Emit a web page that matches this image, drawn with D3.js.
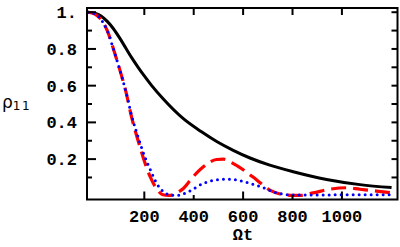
<!DOCTYPE html>
<html>
<head>
<meta charset="utf-8">
<script src="https://cdn.jsdelivr.net/npm/d3@7"></script>
<style>
  body { margin: 0; background: #fff; }
  svg { display: block; }
  .tick-label { font-family: "Liberation Mono", "Courier New", monospace; font-weight: bold; font-size: 17px; fill: #000; }
</style>
</head>
<body>
<svg id="chart" width="400" height="247"></svg>
<script>
/* data (time in Ωt, value rho11) */
const blackT = [-28, 0, 25, 50, 75, 100, 125, 150, 175, 200, 230, 277, 358, 430, 493, 560, 628, 708, 803, 938, 1073, 1201];
const blackV = [1, 0.995, 0.98, 0.95, 0.91, 0.86, 0.805, 0.75, 0.7, 0.653, 0.6, 0.527, 0.42, 0.35, 0.296, 0.248, 0.206, 0.167, 0.131, 0.089, 0.061, 0.045];

const redT = [-28, 0, 25, 50, 75, 100, 125, 150, 175, 200, 225, 250, 275, 300, 325, 358, 392, 439, 493, 520, 547, 607, 655, 708, 750, 790, 830, 884, 951, 1019, 1073, 1140, 1207];
const redV = [1, 0.99, 0.96, 0.9, 0.8, 0.69, 0.57, 0.42, 0.3, 0.19, 0.1, 0.038, 0.006, 0.002, 0.012, 0.04, 0.095, 0.158, 0.198, 0.2, 0.185, 0.136, 0.086, 0.031, 0.01, 0.003, 0.002, 0.016, 0.036, 0.044, 0.036, 0.026, 0.015];

const blueT = [-28, 0, 25, 50, 75, 100, 125, 150, 175, 200, 225, 250, 275, 300, 331, 360, 385, 439, 506, 533, 560, 628, 681, 722, 760, 789, 850, 950, 1050, 1150, 1207];
const blueV = [1, 0.99, 0.96, 0.9, 0.8, 0.69, 0.57, 0.43, 0.32, 0.22, 0.14, 0.068, 0.025, 0.006, 0.002, 0.012, 0.027, 0.068, 0.089, 0.091, 0.089, 0.068, 0.045, 0.022, 0.01, 0.005, 0.004, 0.005, 0.006, 0.006, 0.006];

const xTickVals = [200, 400, 600, 800, 1000];
const xTickLabels = ["200", "400", "600", "800", "1000"];
const xLongTicks = [200, 600, 1000];
const yTickVals = [0.2, 0.4, 0.6, 0.8, 1];
const yTickLabels = ["0.2", "0.4", "0.6", "0.8", "1."];
const yMinorVals = [0.1, 0.3, 0.5, 0.7, 0.9];

const svg = d3.select("#chart");

const x = d3.scaleLinear().domain([-32, 1225]).range([87, 397.5]);
const y = d3.scaleLinear().domain([-0.02, 1.023]).range([199.5, 8]);

const toPts = (ts, vs) => ts.map((t, i) => [t, vs[i]]);

const line = d3.line()
  .x(d => x(d[0]))
  .y(d => y(d[1]))
  .curve(d3.curveMonotoneX);

svg.append("defs").append("clipPath").attr("id", "clip")
  .append("rect")
  .attr("x", x(-32)).attr("y", y(1.023))
  .attr("width", x(1225) - x(-32)).attr("height", y(-0.02) - y(1.023));

const plot = svg.append("g").attr("clip-path", "url(#clip)");

plot.append("path")
  .attr("d", line(toPts(blackT, blackV)))
  .attr("fill", "none")
  .attr("stroke", "#000")
  .attr("stroke-width", 3);

plot.append("path")
  .attr("d", line(toPts(redT, redV)))
  .attr("fill", "none")
  .attr("stroke", "#ff0000")
  .attr("stroke-width", 3.2)
  .attr("stroke-dasharray", "15,7");

plot.append("path")
  .attr("d", line(toPts(blueT, blueV)))
  .attr("fill", "none")
  .attr("stroke", "#0000ff")
  .attr("stroke-width", 3)
  .attr("stroke-linecap", "round")
  .attr("stroke-dasharray", "0,6");

/* frame */
svg.append("rect")
  .attr("x", x(-32)).attr("y", y(1.023))
  .attr("width", x(1225) - x(-32)).attr("height", y(-0.02) - y(1.023))
  .attr("fill", "none")
  .attr("stroke", "#000")
  .attr("stroke-width", 2);

const ticks = svg.append("g").attr("stroke", "#000").attr("stroke-width", 2);

/* left ticks */
ticks.selectAll("line.yl").data(yTickVals).enter().append("line")
  .attr("x1", x(-32)).attr("x2", x(-32) + 9)
  .attr("y1", d => y(d)).attr("y2", d => y(d));
ticks.selectAll("line.ylm").data(yMinorVals).enter().append("line")
  .attr("x1", x(-32)).attr("x2", x(-32) + 5)
  .attr("y1", d => y(d)).attr("y2", d => y(d));

/* right ticks */
ticks.selectAll("line.yr").data(yTickVals.concat(yMinorVals)).enter().append("line")
  .attr("x1", x(1225)).attr("x2", x(1225) - 6)
  .attr("y1", d => y(d)).attr("y2", d => y(d));

/* bottom and top ticks */
ticks.selectAll("line.xb").data(xTickVals).enter().append("line")
  .attr("x1", d => x(d)).attr("x2", d => x(d))
  .attr("y1", y(-0.02)).attr("y2", d => y(-0.02) - (xLongTicks.includes(d) ? 8 : 4.5));
ticks.selectAll("line.xt").data(xTickVals).enter().append("line")
  .attr("x1", d => x(d)).attr("x2", d => x(d))
  .attr("y1", y(1.023)).attr("y2", y(1.023) + 7);

/* tick labels */
svg.selectAll("text.xlab").data(xTickVals).enter().append("text")
  .attr("class", "tick-label")
  .attr("x", d => x(d))
  .attr("y", 221.5)
  .attr("text-anchor", "middle")
  .text((d, i) => xTickLabels[i]);

svg.selectAll("text.ylab").data(yTickVals).enter().append("text")
  .attr("class", "tick-label")
  .attr("x", 77)
  .attr("y", d => y(d) + 6)
  .attr("text-anchor", "end")
  .text((d, i) => yTickLabels[i]);

/* axis titles */
svg.append("text")
  .attr("class", "tick-label")
  .attr("x", 243)
  .attr("y", 240)
  .attr("text-anchor", "middle")
  .text("Ωt");

const rho = svg.append("text")
  .attr("x", 2)
  .attr("y", 108)
  .attr("font-family", "DejaVu Sans, sans-serif")
  .attr("font-size", 17)
  .attr("fill", "#000");
rho.append("tspan").text("ρ");
rho.append("tspan")
  .attr("dy", 2)
  .attr("font-size", 12)
  .attr("letter-spacing", 1.5)
  .text("11");
</script>
</body>
</html>
